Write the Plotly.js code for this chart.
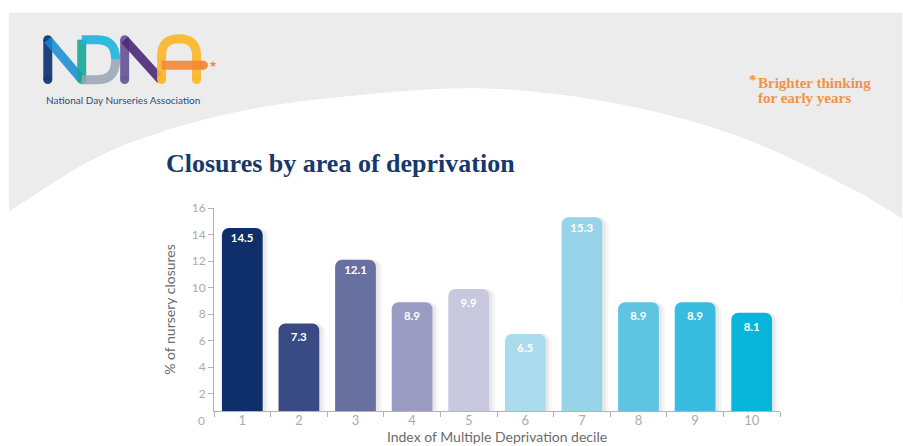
<!DOCTYPE html>
<html><head><meta charset="utf-8">
<script src="https://cdn.plot.ly/plotly-3.0.1.min.js"></script>
<style>html,body{margin:0;padding:0;background:#fff;overflow:hidden;} #chart{width:903px;height:446px;}</style>
</head><body><div id="chart"></div>
<script>
// ---- data ----
const deciles = ['1','2','3','4','5','6','7','8','9','10'];
const closures = [14.5, 7.3, 12.1, 8.9, 9.9, 6.5, 15.3, 8.9, 8.9, 8.1];
const closureLabels = ['14.5','7.3','12.1','8.9','9.9','6.5','15.3','8.9','8.9','8.1'];
const barColors = ['#0e2f6a','#3a4a85','#68709f','#9a9cc4','#c8c9df','#a9dbed','#98d4e9','#5ec4e2','#38bcdf','#08b5db'];
const yTickVals = [2,4,6,8,10,12,14,16];

// ---- geometry helpers (pixel -> paper) ----
const L = 213.5, R = 780.5, T = 207.5, B = 410.7;
const px = x => (x - L) / (R - L);
const py = y => (B - y) / (B - T);
const P = (x, y) => px(x).toFixed(5) + ',' + py(y).toFixed(5);

// background curve (decorative)
const curvePts = [[8,211],[100,155],[200,120],[300,101],[450,88],[550,93],[650,110],[750,140],[850,187],[903,218]];
function smoothPath(pts){
  let d = 'M' + P(pts[0][0], pts[0][1]);
  for (let i = 0; i < pts.length - 1; i++){
    const p0 = pts[Math.max(i-1,0)], p1 = pts[i], p2 = pts[i+1], p3 = pts[Math.min(i+2, pts.length-1)];
    const c1 = [p1[0] + (p2[0]-p0[0])/6, p1[1] + (p2[1]-p0[1])/6];
    const c2 = [p2[0] - (p3[0]-p1[0])/6, p2[1] - (p3[1]-p1[1])/6];
    d += ' C' + P(c1[0],c1[1]) + ' ' + P(c2[0],c2[1]) + ' ' + P(p2[0],p2[1]);
  }
  return d;
}
const whitePath = smoothPath(curvePts) + ' L' + P(903,320) + ' L' + P(0,320) + ' L' + P(0,211) + ' Z';

function stroke(d, color, w){
  return {type:'path', xref:'paper', yref:'paper', layer:'below', path:d, line:{color:color, width:w||9}, fillcolor:'rgba(0,0,0,0)'};
}
function dot(x, y, color){
  const r = 4.5;
  return {type:'circle', xref:'paper', yref:'paper', layer:'below', x0:px(x-r), x1:px(x+r), y0:py(y+r), y1:py(y-r), fillcolor:color, line:{width:0}};
}
const shapes = [
  {type:'rect', xref:'paper', yref:'paper', layer:'below', x0:px(8), x1:px(903), y0:py(12), y1:py(300), fillcolor:'#ececec', line:{width:0}},
  {type:'path', xref:'paper', yref:'paper', layer:'below', path:whitePath, fillcolor:'#ffffff', line:{width:0}},
  // NDNA logo strokes
  stroke('M'+P(47,39)+' L'+P(47,79), 'rgba(22,55,120,0.95)'),
  dot(47,39,'rgba(22,55,120,0.95)'), dot(47,79,'rgba(22,55,120,0.95)'),
  stroke('M'+P(47,39)+' L'+P(81,79), 'rgba(20,140,210,0.85)'),
  stroke('M'+P(81,39)+' L'+P(81,79), 'rgba(20,168,150,0.9)'),
  dot(81,79,'rgba(20,168,150,0.9)'),
  stroke('M'+P(81,39)+' L'+P(97,39)+' Q'+P(115,39)+' '+P(115,59)+'', 'rgba(30,180,220,0.9)'),
  stroke('M'+P(115,59)+' Q'+P(115,79)+' '+P(97,79)+' L'+P(81,79), 'rgba(150,165,180,0.85)'),
  stroke('M'+P(124,39)+' L'+P(124,79), 'rgba(105,88,155,0.95)'),
  dot(124,39,'rgba(105,88,155,0.95)'), dot(124,79,'rgba(105,88,155,0.95)'),
  stroke('M'+P(124,39)+' L'+P(160,79), 'rgba(75,40,120,0.9)'),
  stroke('M'+P(161,79)+' L'+P(161,55)+' Q'+P(161,38)+' '+P(178.5,38)+' Q'+P(196,38)+' '+P(196,55)+' L'+P(196,79), 'rgba(251,182,40,0.92)'),
  dot(161,79,'rgba(251,182,40,0.92)'), dot(196,79,'rgba(251,182,40,0.92)'),
  stroke('M'+P(161,64.5)+' L'+P(203,64.5), 'rgba(245,135,55,0.9)'),
  dot(203,64.5,'rgba(245,135,55,0.9)')
];

const annotations = [
  {xref:'paper', yref:'paper', x:px(43), y:py(99), xanchor:'left', yanchor:'middle', showarrow:false,
   text:'National Day Nurseries Association', font:{family:'Lato, sans-serif', size:10, color:'#2f4c7e'}},
  {xref:'paper', yref:'paper', x:px(212), y:py(63), xanchor:'center', yanchor:'middle', showarrow:false,
   text:'★', font:{family:'DejaVu Sans', size:9, color:'#f5873a'}},
  {xref:'paper', yref:'paper', x:px(756), y:py(82), xanchor:'left', yanchor:'middle', showarrow:false,
   text:'<b>Brighter thinking</b>', font:{family:'Liberation Serif, serif', size:15, color:'#f29444'}},
  {xref:'paper', yref:'paper', x:px(756), y:py(97), xanchor:'left', yanchor:'middle', showarrow:false,
   text:'<b>for early years</b>', font:{family:'Liberation Serif, serif', size:15, color:'#f29444'}},
  {xref:'paper', yref:'paper', x:px(759), y:py(79), xanchor:'right', yanchor:'middle', showarrow:false,
   text:'<b>*</b>', font:{family:'Liberation Serif, serif', size:15, color:'#f29444'}},
  {xref:'paper', yref:'paper', x:px(206.5), y:py(420), xanchor:'right', yanchor:'middle', showarrow:false,
   text:'0', font:{family:'Lato, sans-serif', size:12, color:'#ababab'}}
];

const shadow1 = {type:'bar', x:deciles, y:closures, width:0.82, offset:-0.35, hoverinfo:'skip',
  marker:{color:'rgba(0,0,0,0.035)', cornerradius:9, line:{width:0}}, showlegend:false};
const shadow2 = {type:'bar', x:deciles, y:closures, width:0.77, offset:-0.35, hoverinfo:'skip',
  marker:{color:'rgba(0,0,0,0.05)', cornerradius:8, line:{width:0}}, showlegend:false};
const bars = {type:'bar', x:deciles, y:closures, width:0.72, text:closureLabels,
  textposition:'inside', insidetextanchor:'end', constraintext:'none',
  textfont:{family:'Lato, sans-serif', size:11.5, color:'#ffffff', weight:'bold'},
  marker:{color:barColors, cornerradius:7, line:{width:0}}, showlegend:false};

const layout = {
  width:903, height:446,
  margin:{l:L, r:903-R, t:T, b:446-B, pad:0},
  paper_bgcolor:'#ffffff', plot_bgcolor:'rgba(0,0,0,0)',
  barmode:'overlay',
  title:{text:'<b>Closures by area of deprivation</b>', xref:'container', yref:'container',
    x:166/903, xanchor:'left', y:1-163/446, yanchor:'middle',
    font:{family:'Liberation Serif, serif', size:26, color:'#17386b'}},
  xaxis:{type:'category', range:[-0.5,9.5], showgrid:false, zeroline:false,
    showline:true, linecolor:'#b3b3b3', linewidth:1,
    ticks:'outside', tickson:'boundaries', ticklen:5, tickcolor:'#b3b3b3',
    tickfont:{family:'Lato, sans-serif', size:13, color:'#ababab'}, ticklabelstandoff:-3,
    title:{text:'Index of Multiple Deprivation decile', standoff:4,
      font:{family:'Lato, sans-serif', size:14, color:'#6b6b6b'}},
    automargin:false, fixedrange:true},
  yaxis:{range:[0.7,16], tickvals:yTickVals, showgrid:false, zeroline:false,
    showline:true, linecolor:'#b3b3b3', linewidth:1,
    ticks:'outside', ticklen:5, tickcolor:'#b3b3b3',
    tickfont:{family:'Lato, sans-serif', size:12, color:'#ababab'},
    title:{text:'% of nursery closures', standoff:12,
      font:{family:'Lato, sans-serif', size:14, color:'#6b6b6b'}},
    automargin:false, fixedrange:true},
  shapes:shapes,
  annotations:annotations
};

Plotly.newPlot('chart', [shadow1, shadow2, bars], layout, {displayModeBar:false, staticPlot:true});
</script>
</body></html>
